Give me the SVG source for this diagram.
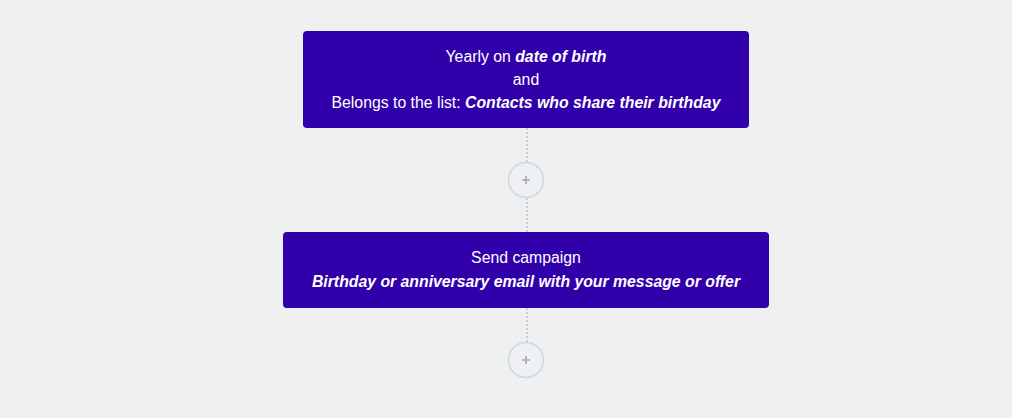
<svg xmlns="http://www.w3.org/2000/svg" width="1012" height="418" viewBox="0 0 1012 418">
<style>
.bg{fill:#eff0f0}
.node{fill:#3100ab}
.t{font-family:"Liberation Sans",Arial,sans-serif;font-size:15.8px;fill:#ffffff;text-anchor:middle}
.b{font-weight:bold;font-style:italic}
.conn{stroke:#c9ceda;stroke-width:2;stroke-dasharray:2 2;fill:none}
.add{fill:#eff0f4;stroke:#d0d6e4;stroke-width:1.5}
.plus{stroke:#a3a7b0;stroke-width:1.6}
</style>
<rect class="bg" x="0" y="0" width="1012" height="418"/>
<g id="connectors">
<line class="conn" x1="527" y1="128" x2="527" y2="162"/>
<line class="conn" x1="527" y1="198" x2="527" y2="232"/>
<line class="conn" x1="527" y1="308" x2="527" y2="342"/>
</g>
<g id="trigger">
<rect class="node" x="303" y="31" width="446" height="97" rx="4"/>
<text class="t" x="526" y="62">Yearly on <tspan class="b">date of birth</tspan></text>
<text class="t" x="526" y="85">and</text>
<text class="t" x="526" y="108">Belongs to the list: <tspan class="b">Contacts who share their birthday</tspan></text>
</g>
<g id="add1">
<circle class="add" cx="526" cy="180" r="17.5"/>
<path class="plus" d="M522 180H530M526 176V184"/>
</g>
<g id="send">
<rect class="node" x="283" y="232" width="486" height="76" rx="4"/>
<text class="t" x="526" y="263">Send campaign</text>
<text class="t b" x="526" y="287">Birthday or anniversary email with your message or offer</text>
</g>
<g id="add2">
<circle class="add" cx="526" cy="360" r="17.5"/>
<path class="plus" d="M522 360H530M526 356V364"/>
</g>
</svg>
